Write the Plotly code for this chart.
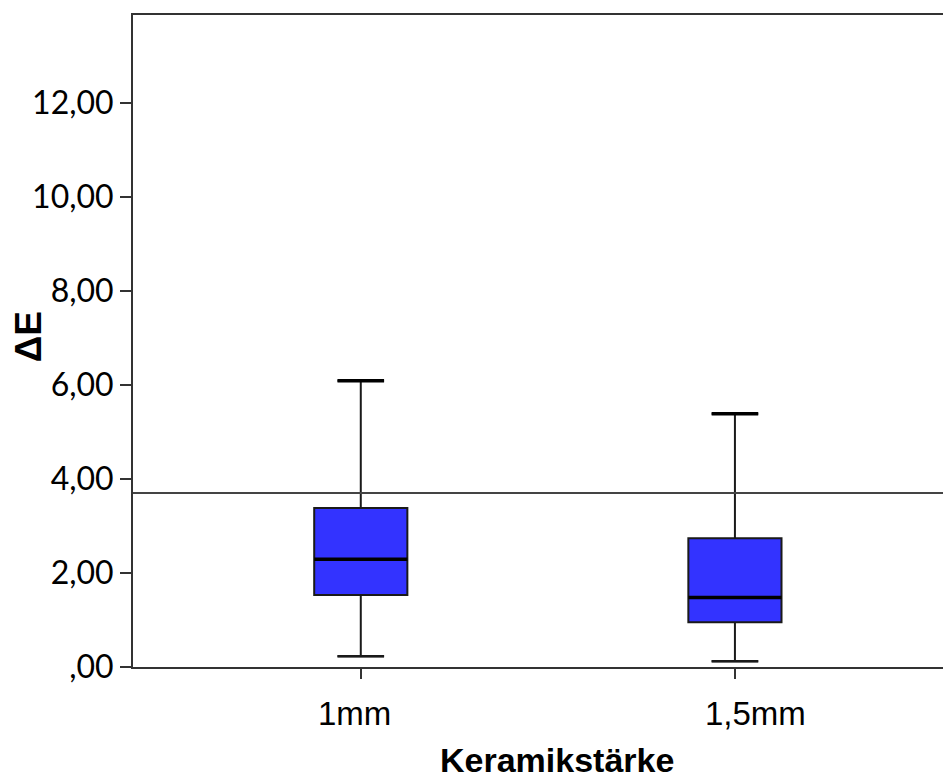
import plotly.graph_objects as go

# ---- data ----
categories = ["1mm", "1,5mm"]
lower_whisker = [0.23, 0.12]
q1 = [1.53, 0.95]
median = [2.29, 1.48]
q3 = [3.38, 2.74]
upper_whisker = [6.09, 5.39]
reference_value = 3.7
y_tick_values = [0, 2, 4, 6, 8, 10, 12]
y_tick_labels = [",00", "2,00", "4,00", "6,00", "8,00", "10,00", "12,00"]
x_title = "Keramikstärke"
y_title = "ΔE"

# ---- style ----
BOX_W = 0.249
CAP_W = BOX_W * 0.5
AXIS_COL = "#333333"
PAGE_MARGIN = 8  # browser default body margin
positions = list(range(len(categories)))

# plot area (in page pixels) of the reference
PL, PT, PB, PR = 133.3, 14.7, 666.7, 951
FIG_W, FIG_H = 951 - PAGE_MARGIN, 781 - PAGE_MARGIN
PLOT_W = PR - PL
PLOT_H = PB - PT

fig = go.Figure()
fig.add_trace(go.Box(
    x=positions,
    q1=q1, median=median, q3=q3,
    lowerfence=lower_whisker, upperfence=upper_whisker,
    width=BOX_W, whiskerwidth=0.5,
    fillcolor="#3333ff",
    line=dict(color="#1a1a1a", width=2),
    boxpoints=False, showlegend=False, hoverinfo="skip",
))
# thicker median lines and whisker caps
for p, m, lo, hi in zip(positions, median, lower_whisker, upper_whisker):
    fig.add_trace(go.Scatter(
        x=[p - BOX_W / 2, p + BOX_W / 2], y=[m, m], mode="lines",
        line=dict(color="black", width=3.5), showlegend=False, hoverinfo="skip",
    ))
    fig.add_trace(go.Scatter(
        x=[p - CAP_W / 2, p + CAP_W / 2], y=[hi, hi], mode="lines",
        line=dict(color="black", width=3.5), showlegend=False, hoverinfo="skip",
    ))
    fig.add_trace(go.Scatter(
        x=[p - CAP_W / 2, p + CAP_W / 2], y=[lo, lo], mode="lines",
        line=dict(color="#1a1a1a", width=2.5), showlegend=False, hoverinfo="skip",
    ))

fig.add_shape(type="line", xref="paper", x0=0, x1=1, yref="y",
              y0=reference_value, y1=reference_value,
              line=dict(color="#444444", width=2))

# category labels
label_shifts = [-6, 21]
for p, c, s in zip(positions, categories, label_shifts):
    fig.add_annotation(x=p, xref="x", y=0, yref="paper", text=c,
                       showarrow=False, xanchor="center", yanchor="middle",
                       xshift=s, yshift=-46,
                       font=dict(family="Liberation Sans, Arial", size=33, color="black"))

fig.add_annotation(x=(557 - PL) / PLOT_W, xref="paper", y=0, yref="paper",
                   text="<b>%s</b>" % x_title,
                   showarrow=False, xanchor="center", yanchor="middle",
                   yshift=-93,
                   font=dict(family="Liberation Sans, Arial", size=34, color="black"))

fig.add_annotation(x=0, xref="paper", y=(PB - 337) / PLOT_H, yref="paper",
                   text="<b>%s</b>" % y_title, textangle=-90, showarrow=False,
                   xanchor="center", yanchor="middle", xshift=-105,
                   font=dict(family="Liberation Sans, Arial", size=37, color="black"))

fig.update_layout(
    width=FIG_W, height=FIG_H,
    margin=dict(l=PL - PAGE_MARGIN, r=0, t=PT - PAGE_MARGIN,
                b=FIG_H - (PB - PAGE_MARGIN), pad=0),
    plot_bgcolor="white", paper_bgcolor="white",
    showlegend=False,
)
fig.update_xaxes(
    range=[-0.6088, 1.5775], tickvals=positions, showticklabels=False,
    showline=True, linecolor=AXIS_COL, linewidth=2, mirror=True,
    ticks="outside", ticklen=10, tickwidth=2, tickcolor=AXIS_COL,
    showgrid=False, zeroline=False,
)
fig.update_yaxes(
    range=[0, 13.87], tickvals=y_tick_values, ticktext=y_tick_labels,
    showline=True, linecolor=AXIS_COL, linewidth=2,
    ticks="outside", ticklen=11, tickwidth=2, tickcolor=AXIS_COL,
    tickfont=dict(family="Lato, Liberation Sans", size=32, color="black"),
    showgrid=False, zeroline=False,
)

fig.write_html("out.html")
